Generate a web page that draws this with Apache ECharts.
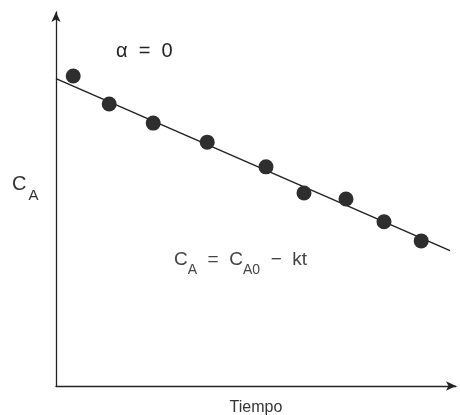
<!DOCTYPE html>
<html>
<head>
<meta charset="utf-8">
<script src="https://cdn.jsdelivr.net/npm/echarts@6/dist/echarts.min.js"></script>
<style>
  html, body { margin: 0; padding: 0; background: #fff; }
  #chart { width: 460px; height: 415px; }
</style>
</head>
<body>
<div id="chart"></div>
<script>
  // datos (unidades arbitrarias)
  var tiempo = [4.3, 13.3, 24.3, 37.8, 52.5, 62, 72.5, 82, 91.3];
  var conc = [82.9, 75.4, 70.3, 65.2, 58.6, 51.6, 50.0, 43.9, 38.8];
  // recta CA = CA0 - kt
  var recta = [[0, 82.2], [98.5, 36.2]];

  var chart = echarts.init(document.getElementById('chart'));

  var fuente = 'Liberation Sans';

  var option = {
    backgroundColor: '#fff',
    animation: false,
    grid: { left: 56, right: 4, top: 12, bottom: 29, outerBoundsMode: 'none' },
    xAxis: {
      type: 'value', min: 0, max: 100,
      name: 'Tiempo', nameLocation: 'middle', nameGap: 14,
      nameTextStyle: { fontFamily: fuente, fontSize: 16, color: '#333' },
      axisLine: { lineStyle: { color: '#222', width: 1.3 }, symbol: ['none', 'arrow'], symbolSize: [7, 10] },
      axisTick: { show: false }, axisLabel: { show: false }, splitLine: { show: false }
    },
    yAxis: {
      type: 'value', min: 0, max: 100,
      axisLine: { lineStyle: { color: '#222', width: 1.3 }, symbol: ['none', 'arrow'], symbolSize: [7, 10] },
      axisTick: { show: false }, axisLabel: { show: false }, splitLine: { show: false }
    },
    graphic: [
      {
        type: 'text', left: 116, top: 41,
        style: { text: '\u03b1  =  0', font: '20px "Liberation Sans"', fill: '#222' }
      },
      {
        // etiqueta del eje y
        type: 'text', left: 12, top: 174,
        style: {
          text: '{c|C}{s|A}',
          rich: {
            c: { fontFamily: fuente, fontSize: 20, fill: '#333', lineHeight: 29, verticalAlign: 'top', padding: [0, 2, 0, 0] },
            s: { fontFamily: fuente, fontSize: 15, fill: '#333', lineHeight: 29, verticalAlign: 'bottom' }
          }
        }
      },
      {
        type: 'text', left: 174, top: 250,
        style: {
          text: '{c|C}{s|A}{c|  =  C}{s|A0}{c|  \u2212  kt}',
          rich: {
            c: { fontFamily: fuente, fontSize: 19, fill: '#444', lineHeight: 27, verticalAlign: 'top' },
            s: { fontFamily: fuente, fontSize: 14, fill: '#444', lineHeight: 27, verticalAlign: 'bottom' }
          }
        }
      }
    ],
    series: [
      {
        type: 'line', data: recta, symbol: 'none',
        lineStyle: { color: '#222', width: 1.5 }, z: 2
      },
      {
        type: 'scatter', data: tiempo.map(function (t, i) { return [t, conc[i]]; }),
        symbolSize: 15, itemStyle: { color: '#2e2e2e', opacity: 1 }, z: 3
      }
    ]
  };

  chart.setOption(option);
</script>
</body>
</html>
